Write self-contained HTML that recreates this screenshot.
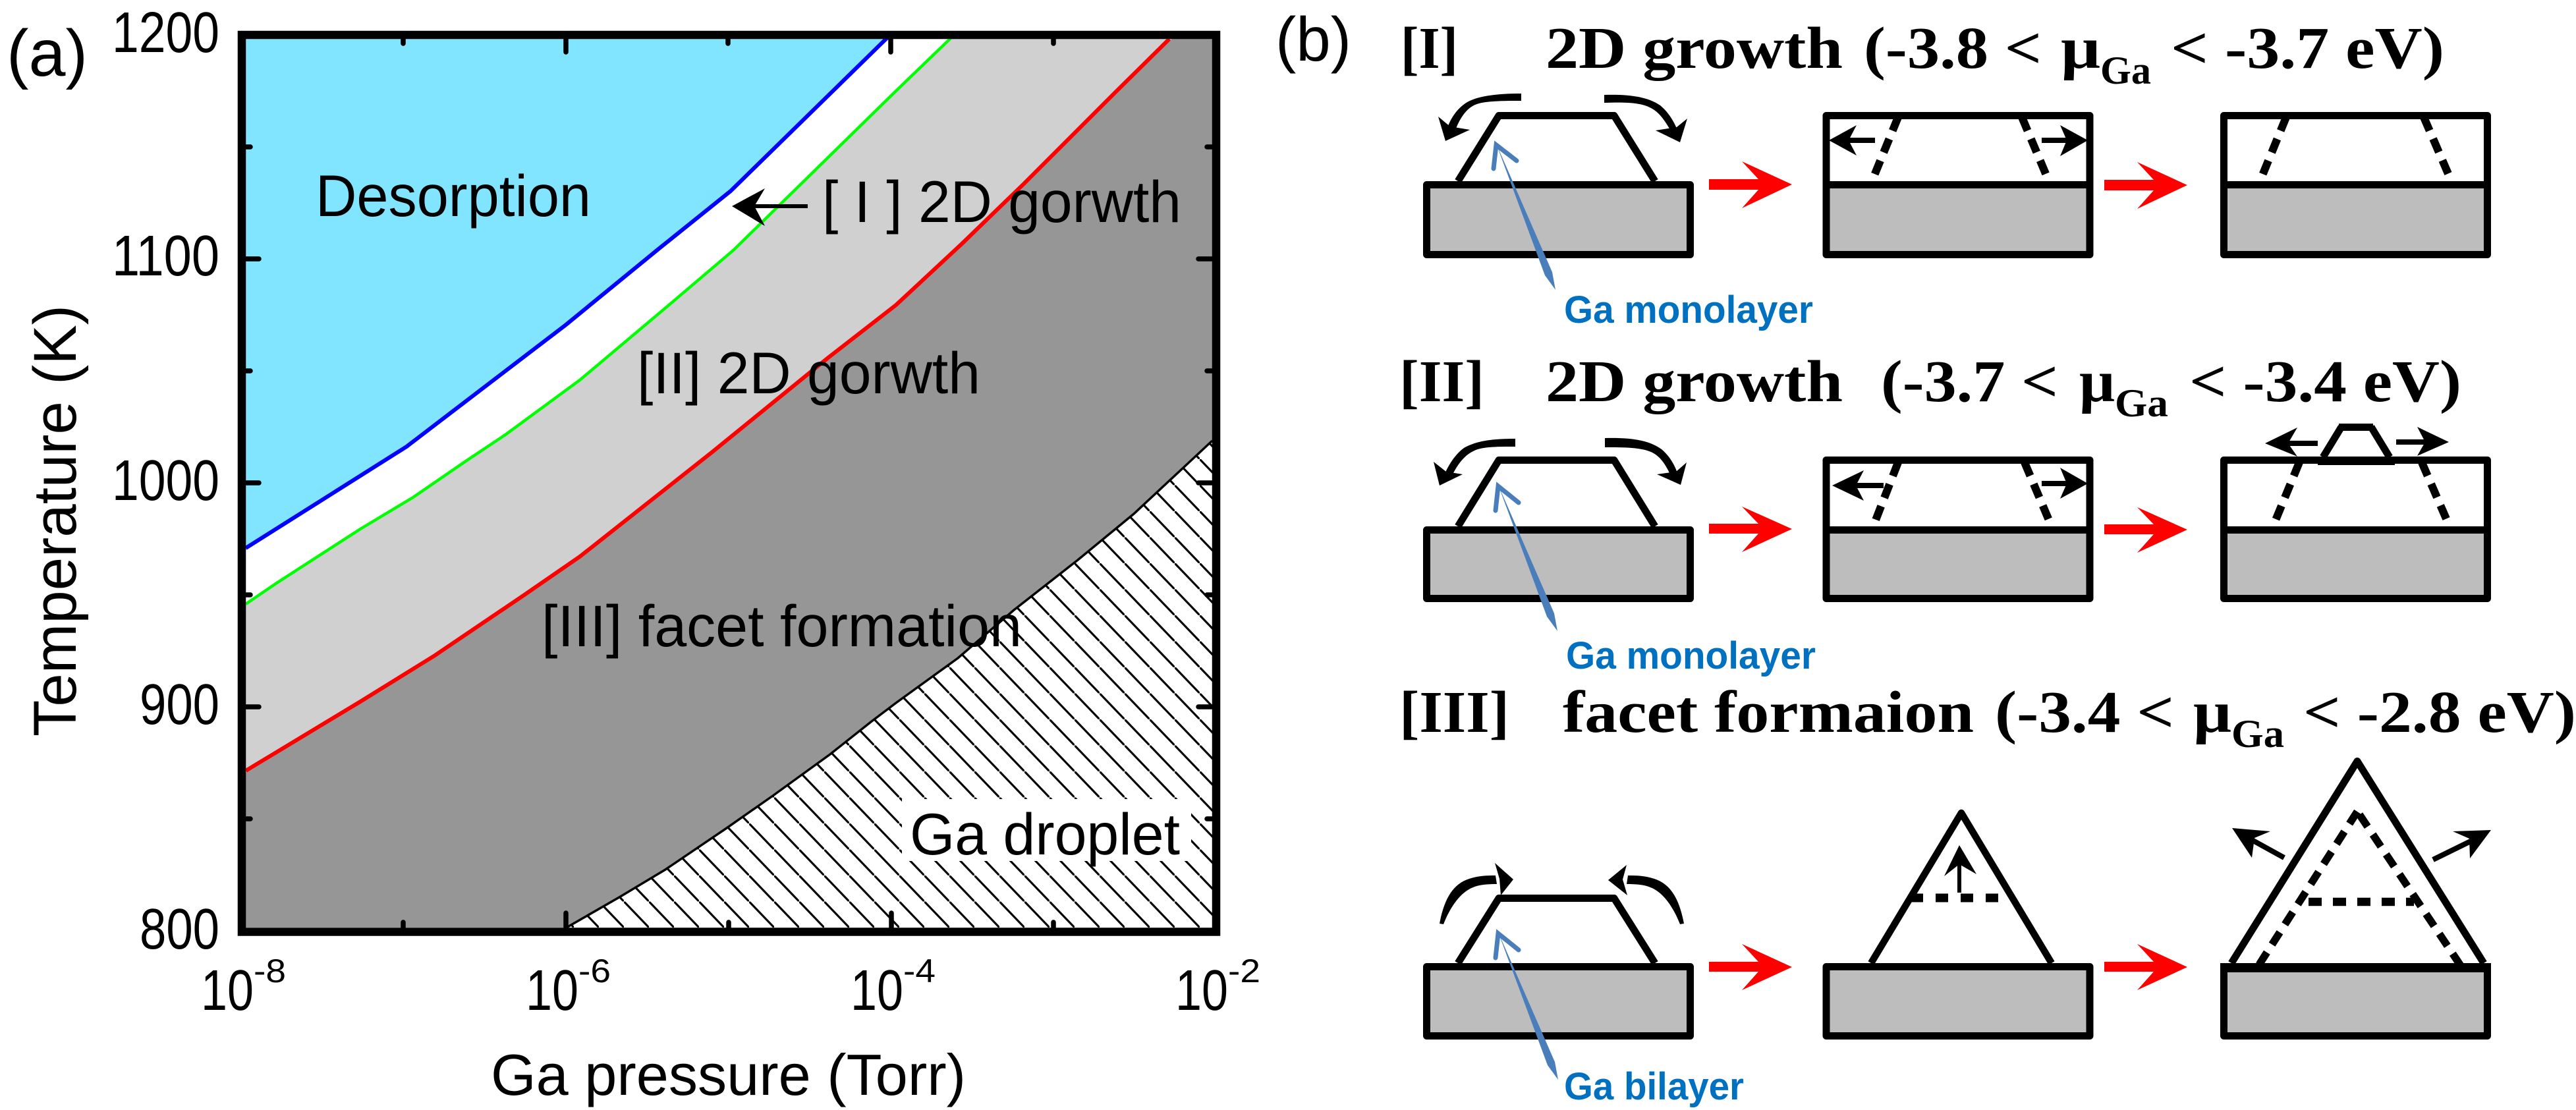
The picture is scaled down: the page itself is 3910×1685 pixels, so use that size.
<!DOCTYPE html>
<html><head><meta charset="utf-8"><style>
html,body{margin:0;padding:0;background:#fff}
svg{display:block}
.s{font-family:"Liberation Sans",sans-serif;fill:#000}
.t{font-family:"Liberation Serif",serif;font-weight:bold;fill:#000;font-size:90px}
.g{font-family:"Liberation Sans",sans-serif;font-weight:bold;fill:#0070c0;font-size:58px}
.b{fill:#bdbdbd;stroke:#000;stroke-width:11;stroke-linejoin:round}
.n{fill:none;stroke:#000;stroke-width:11;stroke-linejoin:round}
.d{fill:none;stroke:#000;stroke-width:12;stroke-dasharray:22 13.6}
.r{fill:#f00}
.bh{fill:#4a7ebb}
.bc{fill:none;stroke:#4a7ebb;stroke-width:7;stroke-linecap:round;stroke-linejoin:miter}
</style></head><body>
<svg xmlns="http://www.w3.org/2000/svg" width="3910" height="1685" viewBox="0 0 3910 1685">
<defs>
<pattern id="h" patternUnits="userSpaceOnUse" width="38" height="39.5" patternTransform="translate(1441,1408)">
<path d="M-3.8,-3.95L41.8,43.45" stroke="#000" stroke-width="3.2" fill="none"/>
</pattern>
</defs>
<rect width="3910" height="1685" fill="#fff"/>

<!-- panel a fills -->
<polygon fill="#82e5ff" points="367,52 1352,52 1347,58 1109,292 997,382 859,495 617,680 503,752 373,835 367,838"/>
<polygon fill="#d0d0d0" points="367,921 373,918 420,886 547,805 627,757 707,702 767,662 880,578 1013,466 1113,381 1360,139 1443,60 1450,52 1846,52 1846,1408 367,1408"/>
<polygon fill="#969696" points="367,1176 373,1173 547,1068 660,998 793,908 880,848 1080,690 1257,546 1360,466 1460,373 1553,283 1693,143 1778,60 1786,52 1846,52 1846,1408 367,1408"/>
<polygon fill="#fff" points="860,1408 940,1362 1010,1320 1103,1257 1173,1208 1260,1145 1323,1095 1360,1067 1454,999 1539,926 1636,850 1721,780 1840,669 1840,1408"/>
<polygon fill="url(#h)" points="860,1408 940,1362 1010,1320 1103,1257 1173,1208 1260,1145 1323,1095 1360,1067 1454,999 1539,926 1636,850 1721,780 1840,669 1840,1408"/>
<rect x="1369" y="1213" width="439" height="94" fill="#fff"/>

<!-- curves -->
<polyline fill="none" stroke="#0000ff" stroke-width="6" points="373,832 503,750 617,678 859,493 997,380 1109,290 1347,57"/>
<polyline fill="none" stroke="#00ff00" stroke-width="4.5" points="373,917 420,885 547,803 627,755 707,700 767,660 880,577 1013,465 1113,380 1360,138 1443,58"/>
<polyline fill="none" stroke="#ff0000" stroke-width="6" points="373,1170 547,1065 660,995 793,905 880,845 1080,687 1257,543 1360,463 1460,370 1553,280 1693,140 1775,59"/>
<polyline fill="none" stroke="#000" stroke-width="3.5" points="860,1408 940,1362 1010,1320 1103,1257 1173,1208 1260,1145 1323,1095 1360,1067 1454,999 1539,926 1636,850 1721,780 1840,669"/>

<!-- ticks -->
<g stroke="#000" stroke-width="7.5" stroke-linecap="round" fill="none">
<path d="M373,393h20M373,733h20M373,1073h20M373,223h7M373,563h7M373,903h7M373,1243h7"/>
<path d="M1839,393h-20M1839,733h-20M1839,1073h-20M1839,223h-7M1839,563h-7M1839,903h-7M1839,1243h-7"/>
<path d="M859,59v20M1352,59v20M612,59v7M1105,59v7M1599,59v7"/>
<path d="M859,1408v-22M1353,1408v-22M612,1408v-8M1106,1408v-8M1599,1408v-8"/>
</g>
<rect x="367" y="53" width="1479" height="1361.5" fill="none" stroke="#000" stroke-width="12.5"/>

<!-- panel a labels -->
<text class="s" x="10" y="115" font-size="100" textLength="123" lengthAdjust="spacingAndGlyphs">(a)</text>
<g class="s" font-size="87">
<text x="170" y="79" textLength="163" lengthAdjust="spacingAndGlyphs">1200</text>
<text x="170" y="418" textLength="163" lengthAdjust="spacingAndGlyphs">1100</text>
<text x="170" y="759" textLength="163" lengthAdjust="spacingAndGlyphs">1000</text>
<text x="212" y="1099" textLength="121" lengthAdjust="spacingAndGlyphs">900</text>
<text x="212" y="1440" textLength="121" lengthAdjust="spacingAndGlyphs">800</text>
<text x="305" y="1533" textLength="80" lengthAdjust="spacingAndGlyphs">10</text>
<text x="798" y="1533" textLength="80" lengthAdjust="spacingAndGlyphs">10</text>
<text x="1291" y="1533" textLength="80" lengthAdjust="spacingAndGlyphs">10</text>
<text x="1784" y="1533" textLength="80" lengthAdjust="spacingAndGlyphs">10</text>
</g>
<g class="s" font-size="50">
<text x="385" y="1491" textLength="49" lengthAdjust="spacingAndGlyphs">-8</text>
<text x="878" y="1491" textLength="49" lengthAdjust="spacingAndGlyphs">-6</text>
<text x="1371" y="1491" textLength="49" lengthAdjust="spacingAndGlyphs">-4</text>
<text x="1864" y="1491" textLength="49" lengthAdjust="spacingAndGlyphs">-2</text>
</g>
<text class="s" x="745" y="1662" font-size="88" textLength="721" lengthAdjust="spacingAndGlyphs">Ga pressure (Torr)</text>
<text class="s" transform="translate(115,1118) rotate(-90)" font-size="92" textLength="655" lengthAdjust="spacingAndGlyphs">Temperature (K)</text>
<g class="s" font-size="89">
<text x="479" y="328" textLength="418" lengthAdjust="spacingAndGlyphs">Desorption</text>
<text x="1248" y="337" textLength="545" lengthAdjust="spacingAndGlyphs">[ I ] 2D gorwth</text>
<text x="967" y="597" textLength="521" lengthAdjust="spacingAndGlyphs">[II] 2D gorwth</text>
<text x="822" y="981" textLength="729" lengthAdjust="spacingAndGlyphs">[III] facet formation</text>
<text x="1381" y="1297" textLength="410" lengthAdjust="spacingAndGlyphs">Ga droplet</text>
</g>
<path d="M1226,313H1140" stroke="#000" stroke-width="6" fill="none"/>
<polygon points="1111,313 1161,286 1145,313 1161,343"/>

<!-- panel b labels -->
<text class="s" x="1936" y="92" font-size="95" textLength="115" lengthAdjust="spacingAndGlyphs">(b)</text>
<g class="t">
<text x="2126" y="103" textLength="87" lengthAdjust="spacingAndGlyphs">[I]</text>
<text x="2346" y="103" textLength="451" lengthAdjust="spacingAndGlyphs">2D growth</text>
<text x="2829" y="103" textLength="270" lengthAdjust="spacingAndGlyphs">(-3.8 &lt;</text>
<text x="3128" y="103" textLength="60" lengthAdjust="spacingAndGlyphs">μ</text>
<text x="3188" y="127" font-size="60" textLength="77" lengthAdjust="spacingAndGlyphs">Ga</text>
<text x="3295" y="103" textLength="415" lengthAdjust="spacingAndGlyphs">&lt; -3.7 eV)</text>

<text x="2124" y="609" textLength="129" lengthAdjust="spacingAndGlyphs">[II]</text>
<text x="2346" y="609" textLength="451" lengthAdjust="spacingAndGlyphs">2D growth</text>
<text x="2855" y="609" textLength="269" lengthAdjust="spacingAndGlyphs">(-3.7 &lt;</text>
<text x="3156" y="609" textLength="54" lengthAdjust="spacingAndGlyphs">μ</text>
<text x="3210" y="632" font-size="60" textLength="81" lengthAdjust="spacingAndGlyphs">Ga</text>
<text x="3323" y="609" textLength="413" lengthAdjust="spacingAndGlyphs">&lt; -3.4 eV)</text>

<text x="2124" y="1111" textLength="167" lengthAdjust="spacingAndGlyphs">[III]</text>
<text x="2372" y="1111" textLength="624" lengthAdjust="spacingAndGlyphs">facet formaion</text>
<text x="3028" y="1111" textLength="272" lengthAdjust="spacingAndGlyphs">(-3.4 &lt;</text>
<text x="3329" y="1111" textLength="58" lengthAdjust="spacingAndGlyphs">μ</text>
<text x="3387" y="1134" font-size="60" textLength="80" lengthAdjust="spacingAndGlyphs">Ga</text>
<text x="3496" y="1111" textLength="414" lengthAdjust="spacingAndGlyphs">&lt; -2.8 eV)</text>
</g>

<!-- ROW I -->
<path class="n" d="M2213,275L2275,175.5H2450L2512,275"/>
<rect class="b" x="2165.5" y="280.5" width="400" height="106"/>
<path class="d" d="M2881,178L2845,266M3069,178L3106,266"/>
<path class="d" d="M3470,178L3434,266M3679,178L3717,266"/>
<path class="n" d="M2772,281V175.5H3172V281"/>
<rect class="b" x="2772" y="280.5" width="400" height="106"/>
<path class="n" d="M3375.5,281V175.5H3775.5V281"/>
<rect class="b" x="3375.5" y="280.5" width="400" height="106"/>
<path d="M2309,142C2270,142 2240,146 2224,157C2208,168 2200,185 2197,194L2210,195C2216,180 2225,166 2237,160C2250,153 2280,153 2309,153Z"/>
<polygon points="2183,177 2201,192 2231,197 2194,214"/>
<path d="M2435,144C2470,143 2500,146 2520,160C2532,170 2540,183 2545,195L2535,197C2527,183 2518,170 2506,164C2490,155 2465,155 2435,156Z"/>
<polygon points="2550,216 2561,180 2545,193 2513,198"/>
<polygon class="bh" points="2271,218 2345,418 2361,440 2356,413"/>
<path class="bc" d="M2267,256L2271,220L2302,244"/>
<text class="g" x="2374" y="490" textLength="378" lengthAdjust="spacingAndGlyphs">Ga monolayer</text>
<polygon class="r" points="2594,272 2669,272 2644,245 2720,280 2644,316 2669,288 2594,288"/>
<polygon class="r" points="3194,273 3269,273 3244,246 3320,281 3244,317 3269,289 3194,289"/>
<path d="M2846,213H2800M3099,213H3145" stroke="#000" stroke-width="8"/>
<polygon points="2776,213 2818,190 2806,213 2818,236"/>
<polygon points="3169,213 3127,190 3137,213 3127,237"/>

<!-- ROW II -->
<path class="n" d="M2213,799L2275,698.5H2450L2512,799"/>
<rect class="b" x="2165.5" y="804.5" width="400" height="104"/>
<path class="d" d="M2881,702L2846,792M3073,702L3111,792"/>
<path class="d" d="M3490,702L3453,792M3676,702L3715,792"/>
<path class="n" d="M2772,805V698.5H3172V805"/>
<rect class="b" x="2772" y="804.5" width="400" height="104"/>
<path class="n" d="M3375.5,805V698.5H3775.5V805"/>
<rect class="b" x="3375.5" y="804.5" width="400" height="104"/>
<path d="M2300,666C2262,666 2240,670 2222,680C2208,690 2198,708 2194,717L2206,718C2214,703 2224,690 2238,684C2250,678 2275,678 2300,678Z"/>
<polygon points="2176,701 2195,716 2220,720 2185,737"/>
<path d="M2436,665C2475,664 2503,668 2522,682C2534,692 2542,706 2546,718L2535,720C2528,705 2520,693 2508,687C2492,679 2465,679 2436,679Z"/>
<polygon points="2551,736 2560,702 2544,716 2515,720"/>
<polygon class="bh" points="2274,736 2348,936 2364,958 2359,931"/>
<path class="bc" d="M2270,775L2274,738L2305,763"/>
<text class="g" x="2377" y="1015" textLength="379" lengthAdjust="spacingAndGlyphs">Ga monolayer</text>
<polygon class="r" points="2594,795 2669,795 2644,769 2720,803 2644,838 2669,810 2594,810"/>
<polygon class="r" points="3194,796 3269,796 3244,770 3320,804 3244,839 3269,811 3194,811"/>
<path d="M2859,737H2810M3099,734H3145" stroke="#000" stroke-width="8"/>
<polygon points="2781,737 2829,714 2817,737 2829,760"/>
<polygon points="3169,734 3127,710 3137,734 3127,757"/>
<path class="n" d="M3554,648L3526,694M3599,648L3627,694"/>
<rect x="3550" y="643" width="52" height="11"/>
<rect x="3518" y="693" width="117" height="13"/>
<path d="M3518,673H3465M3637,671H3690" stroke="#000" stroke-width="8"/>
<polygon points="3438,673 3487,649 3473,673 3487,693"/>
<polygon points="3717,671 3669,648 3681,671 3669,692"/>

<!-- ROW III -->
<path class="n" d="M2213,1462L2275,1363.5H2450L2512,1462"/>
<path fill="none" stroke="#000" stroke-width="10.5" stroke-linejoin="round" d="M2840,1462L2977,1234L3114,1462"/>
<path d="M2900,1363H3047" fill="none" stroke="#000" stroke-width="13" stroke-dasharray="19 19"/>
<path d="M2974,1355V1305" stroke="#000" stroke-width="6"/>
<polygon points="2974,1283 3000,1327 2974,1312 2951,1330"/>
<path fill="none" stroke="#000" stroke-width="11" stroke-linejoin="round" d="M3387,1462L3578,1155.5L3770,1462"/>
<path d="M3429,1464.3L3578,1232" fill="none" stroke="#000" stroke-width="11.5" stroke-dasharray="22 14.3"/>
<path d="M3735,1466L3581,1236" fill="none" stroke="#000" stroke-width="11.5" stroke-dasharray="22 14.3"/>
<path d="M3504,1369H3664" fill="none" stroke="#000" stroke-width="12.5" stroke-dasharray="20 17"/>
<rect class="b" x="2165.5" y="1467.5" width="400" height="105"/>
<rect class="b" x="2772" y="1467.5" width="400" height="105"/>
<rect class="b" x="3375.5" y="1469" width="400" height="103.5"/>
<rect x="3370" y="1462" width="411" height="14"/>
<path d="M2185,1402C2192,1365 2205,1342 2230,1334C2245,1329 2258,1329 2270,1329L2272,1342C2258,1342 2245,1343 2236,1347C2215,1355 2200,1380 2191,1403Z"/>
<polygon points="2297,1335 2269,1310 2276,1334 2278,1359"/>
<path d="M2556,1402C2549,1365 2536,1342 2511,1334C2496,1329 2483,1329 2471,1329L2469,1342C2483,1342 2496,1343 2505,1347C2526,1355 2541,1380 2550,1403Z"/>
<polygon points="2441,1336 2469,1313 2463,1335 2470,1359"/>
<polygon class="bh" points="2274,1415 2349,1617 2365,1639 2360,1612"/>
<path class="bc" d="M2270,1454L2274,1417L2305,1442"/>
<text class="g" x="2374" y="1669" textLength="273" lengthAdjust="spacingAndGlyphs">Ga bilayer</text>
<polygon class="r" points="2594,1460 2669,1460 2644,1433 2720,1468 2644,1503 2669,1475 2594,1475"/>
<polygon class="r" points="3194,1460 3269,1460 3244,1433 3320,1468 3244,1503 3269,1475 3194,1475"/>
<path d="M3467,1302L3418,1275M3693,1305L3750,1277" stroke="#000" stroke-width="8"/>
<polygon points="3388,1257 3446,1262 3422,1272 3418,1302"/>
<polygon points="3781,1260 3723,1262 3748,1273 3749,1303"/>
</svg>
</body></html>
